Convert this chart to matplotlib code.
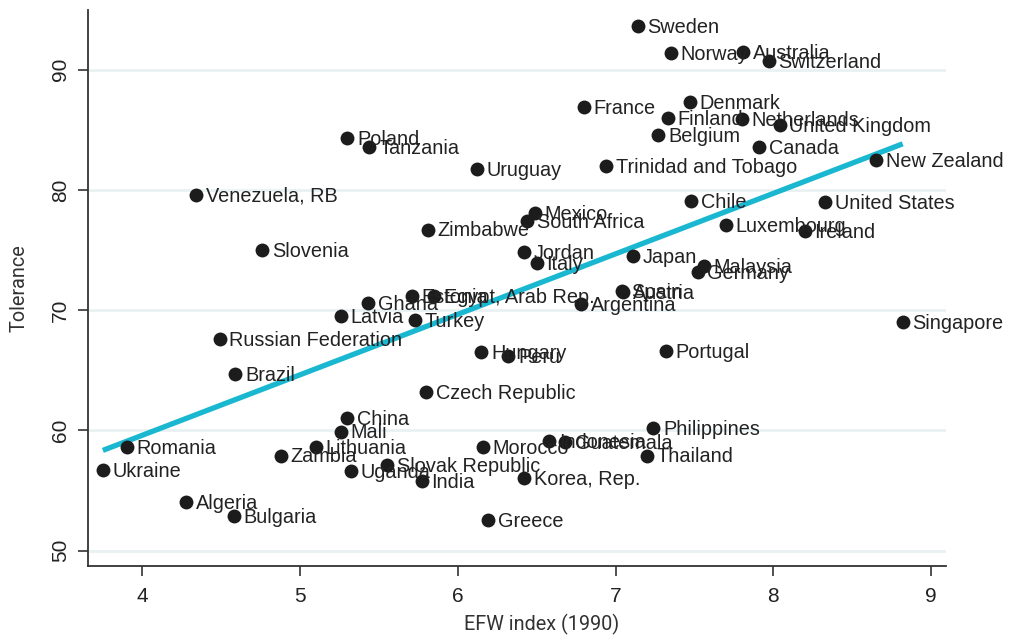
import numpy as np
import matplotlib
matplotlib.use("Agg")
import matplotlib.pyplot as plt

countries = ["Sweden", "Norway", "Australia", "Switzerland", "France", "Denmark",
             "Finland", "Netherlands", "United Kingdom", "Belgium", "Canada",
             "Trinidad and Tobago", "New Zealand", "Chile", "United States",
             "Mexico", "South Africa", "Luxembourg", "Ireland", "Jordan", "Italy",
             "Japan", "Malaysia", "Germany", "Spain", "Austria", "Argentina",
             "Singapore", "Poland", "Tanzania", "Uruguay", "Venezuela, RB",
             "Zimbabwe", "Slovenia", "Ghana", "Estonia", "Egypt, Arab Rep.",
             "Latvia", "Turkey", "Russian Federation", "Brazil", "Hungary", "Peru",
             "Czech Republic", "China", "Mali", "Lithuania", "Romania", "Ukraine",
             "Zambia", "Uganda", "Slovak Republic", "India", "Morocco", "Algeria",
             "Bulgaria", "Greece", "Portugal", "Philippines", "Indonesia",
             "Guatemala", "Thailand", "Korea, Rep."]

efw = [7.14, 7.35, 7.81, 7.97, 6.80, 7.47,
       7.33, 7.80, 8.04, 7.27, 7.91,
       6.94, 8.65, 7.48, 8.33,
       6.49, 6.44, 7.70, 8.20, 6.42, 6.50,
       7.11, 7.56, 7.52, 7.04, 7.05, 6.78,
       8.82, 5.30, 5.44, 6.12, 4.34,
       5.81, 4.76, 5.43, 5.71, 5.85,
       5.26, 5.73, 4.49, 4.59, 6.15, 6.32,
       5.80, 5.30, 5.26, 5.10, 3.90, 3.75,
       4.88, 5.32, 5.55, 5.77, 6.16, 4.28,
       4.58, 6.19, 7.32, 7.24, 6.58,
       6.68, 7.20, 6.42]

tolerance = [93.6, 91.4, 91.5, 90.7, 86.9, 87.3,
             86.0, 85.9, 85.4, 84.6, 83.6,
             82.0, 82.5, 79.1, 79.0,
             78.1, 77.4, 77.1, 76.6, 74.8, 73.9,
             74.5, 73.7, 73.2, 71.6, 71.5, 70.5,
             69.0, 84.3, 83.6, 81.7, 79.6,
             76.7, 75.0, 70.6, 71.2, 71.2,
             69.5, 69.2, 67.6, 64.7, 66.5, 66.2,
             63.2, 61.0, 59.9, 58.6, 58.6, 56.7,
             57.9, 56.6, 57.1, 55.8, 58.6, 54.0,
             52.9, 52.5, 66.6, 60.2, 59.1,
             59.0, 57.9, 56.0]

x_ticks = [4, 5, 6, 7, 8, 9]
y_ticks = [50, 60, 70, 80, 90]

plt.rcParams['font.family'] = ['Liberation Sans', 'DejaVu Sans']

fig = plt.figure(figsize=(10.12, 6.4), dpi=100)
ax = fig.add_axes([0.087, 0.1156, 0.848, 0.8684])

for yv in y_ticks:
    ax.axhline(yv, color="#e9f1f3", lw=2, zorder=0)

x = np.array(efw)
y = np.array(tolerance)
slope, intercept = np.polyfit(x, y, 1)
xs = np.array([x.min(), x.max()])
ax.plot(xs, intercept + slope * xs, color="#1ab7d0", lw=3.8, zorder=2,
        solid_capstyle="butt")

ax.scatter(x, y, s=100, color="#1c1c1c", zorder=3, linewidths=0)
for c, xv, yv in zip(countries, efw, tolerance):
    ax.annotate(c, (xv, yv), xytext=(7, -1), textcoords="offset points",
                ha="left", va="center", fontsize=14.3, color="#222222", zorder=4)

ax.set_xlim(3.656, 9.096)
ax.set_ylim(48.71, 94.95)
ax.set_xticks(x_ticks)
ax.set_yticks(y_ticks)
ax.tick_params(axis="both", direction="out", length=7, width=1.2,
               color="#333333", labelsize=15, labelcolor="#222222")
ax.tick_params(axis="x", pad=8)
for lbl in ax.get_yticklabels():
    lbl.set_rotation(90)
    lbl.set_va("center")
ax.tick_params(axis="y", pad=6)
for side in ["top", "right"]:
    ax.spines[side].set_visible(False)
for side in ["left", "bottom"]:
    ax.spines[side].set_color("#333333")
    ax.spines[side].set_linewidth(1.3)

ax.set_xlabel("EFW index (1990)", fontsize=14.3, color="#333333",
              family=["Roboto", "DejaVu Sans"])
ax.set_ylabel("Tolerance", fontsize=14.3, color="#333333",
              family=["Roboto", "DejaVu Sans"])
ax.xaxis.set_label_coords(0.529, -0.087)
ax.yaxis.set_label_coords(-0.069, 0.5)

fig.savefig("out.png", dpi=100)
